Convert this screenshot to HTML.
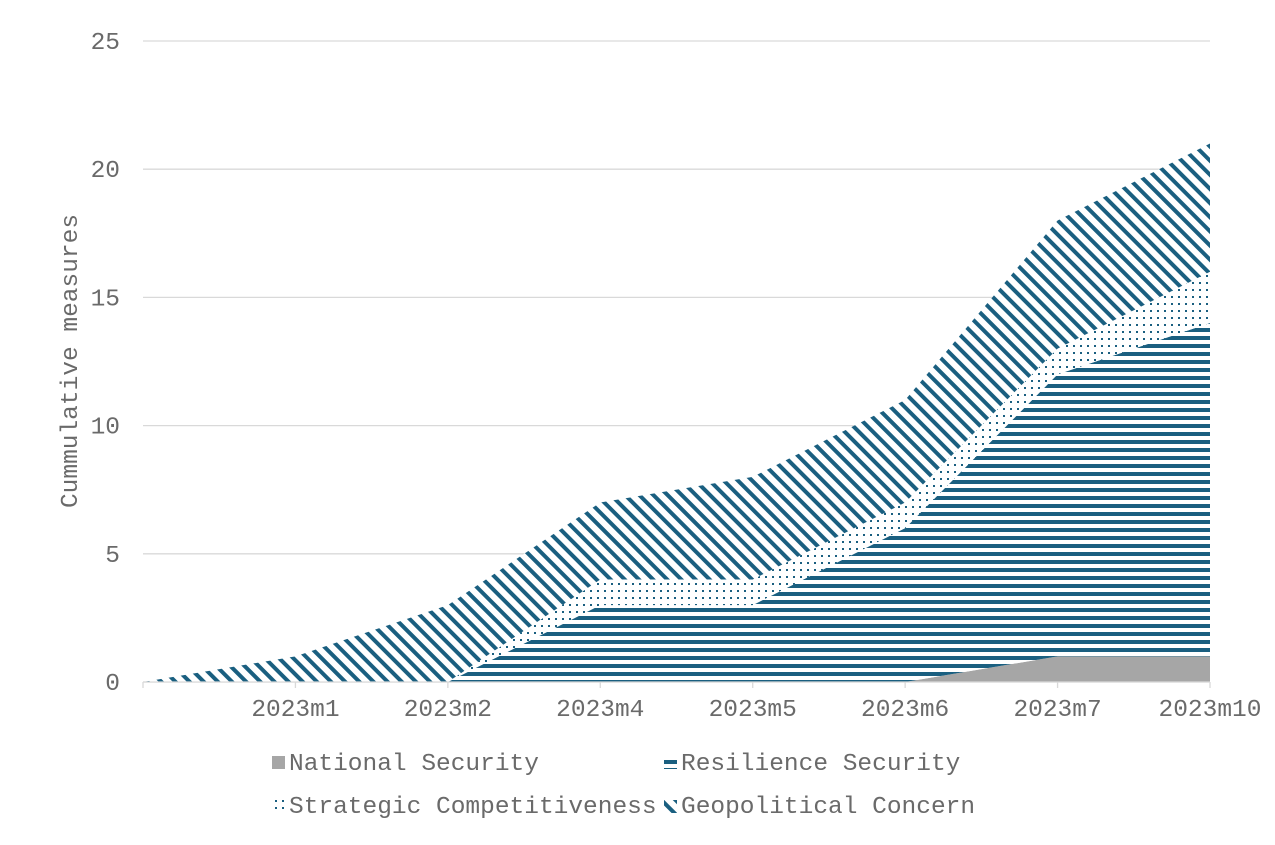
<!DOCTYPE html>
<html><head><meta charset="utf-8"><style>
body{margin:0;background:#fff;width:1275px;height:840px;overflow:hidden}
text{font-family:"Liberation Mono",monospace;fill:#6a6a6a;font-size:24.5px}
</style></head><body>
<svg id="chart" width="1275" height="840" xmlns="http://www.w3.org/2000/svg">
<defs>
<pattern id="pHoriz" patternUnits="userSpaceOnUse" width="8" height="8"><rect width="8" height="8" fill="#fff"/><rect y="0" width="8" height="4" fill="#1a5f80"/></pattern>
<pattern id="pDots" patternUnits="userSpaceOnUse" width="7" height="7"><rect width="7" height="7" fill="#fff"/><rect x="2" y="2" width="2" height="2" fill="#1a5f80"/></pattern>
<pattern id="pDiag" patternUnits="userSpaceOnUse" width="10" height="10" patternTransform="rotate(-45)"><rect width="10" height="10" fill="#fff"/><rect x="0" y="0" width="4" height="10" fill="#1a5f80"/></pattern>
</defs>
<g id="grid"></g>
<g id="areas"></g>
<g id="axes"></g>
<text transform="translate(77,361) rotate(-90)" text-anchor="middle">Cummulative measures</text>
<g>
<g><rect x="272" y="756" width="13" height="13" fill="#a6a6a6"/><text x="289" y="770">National Security</text></g>
<g><rect x="664" y="756" width="13" height="13" fill="url(#pHoriz)"/><text x="681" y="770">Resilience Security</text></g>
<g><rect x="272" y="800" width="13" height="13" fill="url(#pDots)"/><text x="289" y="813">Strategic Competitiveness</text></g>
<g><rect x="664" y="800" width="13" height="13" fill="url(#pDiag)"/><text x="681" y="813">Geopolitical Concern</text></g>
</g>
</svg>
<script>
const categories = ["", "2023m1", "2023m2", "2023m4", "2023m5", "2023m6", "2023m7", "2023m10"];
const nationalSecurity = [0, 0, 0, 0, 0, 0, 1, 1];
const resilienceSecurity = [0, 0, 0, 3, 3, 6, 11, 13];
const strategicCompetitiveness = [0, 0, 0, 1, 1, 1, 1, 2];
const geopoliticalConcern = [0, 1, 3, 3, 4, 4, 5, 5];
const yTicks = [0, 5, 10, 15, 20, 25];

const NS = "http://www.w3.org/2000/svg";
const x0 = 143, x1 = 1210, yBase = 682, yTopPx = 41, yMax = 25;
const xs = i => x0 + (x1 - x0) * i / (categories.length - 1);
const ys = v => yBase - (yBase - yTopPx) * v / yMax;
function mk(tag, attrs, parent) { const e = document.createElementNS(NS, tag); for (const k in attrs) e.setAttribute(k, attrs[k]); parent.appendChild(e); return e; }

const grid = document.getElementById('grid');
yTicks.forEach(t => {
  const l = mk('line', {x1: x0, x2: x1, y1: ys(t), y2: ys(t), stroke: '#d9d9d9', 'stroke-width': 1.3}, grid);
  
  
  const tx = mk('text', {x: 120, y: ys(t) + 8, 'text-anchor': 'end'}, grid);
  tx.textContent = t;
  
  
});

const series = [
  {name: 'national-security', vals: nationalSecurity, fill: '#a6a6a6'},
  {name: 'resilience-security', vals: resilienceSecurity, fill: 'url(#pHoriz)'},
  {name: 'strategic-competitiveness', vals: strategicCompetitiveness, fill: 'url(#pDots)'},
  {name: 'geopolitical-concern', vals: geopoliticalConcern, fill: 'url(#pDiag)'}
];
const areas = document.getElementById('areas');
let base = categories.map(() => 0);
series.forEach(s => {
  const top = base.map((b, i) => b + s.vals[i]);
  let d = top.map((v, i) => (i ? 'L' : 'M') + xs(i) + ',' + ys(v)).join(' ');
  for (let i = base.length - 1; i >= 0; i--) d += ' L' + xs(i) + ',' + ys(base[i]);
  const p = mk('path', {d: d + ' Z', fill: s.fill}, areas);
  
  
  base = top;
});

const axes = document.getElementById('axes');
const ax = mk('line', {x1: x0, x2: x1, y1: yBase, y2: yBase, stroke: '#d9d9d9', 'stroke-width': 1.3}, axes);


categories.forEach((c, i) => {
  const tk = mk('line', {x1: xs(i), x2: xs(i), y1: yBase, y2: yBase + 6, stroke: '#d9d9d9', 'stroke-width': 1.3}, axes);
  
  
  if (c) {
    const t = mk('text', {x: xs(i), y: 716, 'text-anchor': 'middle'}, axes);
    t.textContent = c;
    
    
  }
});
</script>
</body></html>
